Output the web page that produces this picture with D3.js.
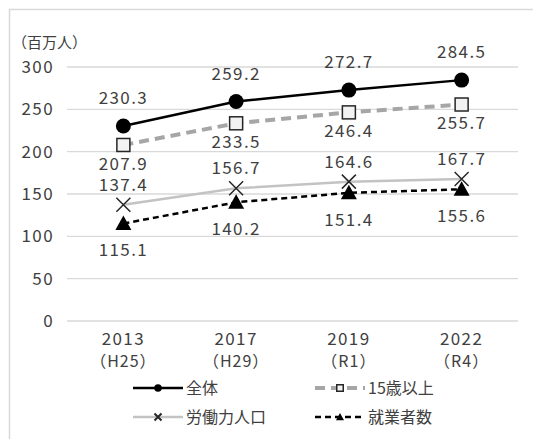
<!DOCTYPE html>
<html>
<head>
<meta charset="utf-8">
<script src="https://cdn.jsdelivr.net/npm/d3@7"></script>
<style>
  body { margin: 0; background: #fff; }
  text { font-family: "Noto Sans CJK JP", "Noto Sans", sans-serif; fill: #404040; }
  .num { letter-spacing: 1.4px; }
</style>
</head>
<body>
<div id="chart"></div>
<script>
// data
var years = ["2013", "2017", "2019", "2022"];
var eras = ["（H25）", "（H29）", "（R1）", "（R4）"];
var yTicks = [0, 50, 100, 150, 200, 250, 300];
var zentai = [230.3, 259.2, 272.7, 284.5];
var over15 = [207.9, 233.5, 246.4, 255.7];
var labor = [137.4, 156.7, 164.6, 167.7];
var employed = [115.1, 140.2, 151.4, 155.6];

var W = 533, H = 439;
var margin = { top: 67, right: 15, bottom: 118, left: 67 };
var width = W - margin.left - margin.right,
  height = H - margin.top - margin.bottom;

var root = d3.select("#chart").append("svg")
  .attr("width", W).attr("height", H);

// outer frame (cropped on right / bottom)
root.append("path")
  .attr("d", "M9.5," + H + "V9.5H" + W)
  .attr("fill", "none").attr("stroke", "#d9d9d9").attr("stroke-width", 1.5);

var svg = root.append("g")
  .attr("transform", "translate(" + margin.left + "," + margin.top + ")");

var x = d3.scaleBand().domain(years).range([0, width]);
var y = d3.scaleLinear().domain([0, 300]).range([height, 0]);
var cx = function (i) { return x(years[i]) + x.bandwidth() / 2; };

// grid
svg.selectAll(".grid").data(yTicks).enter().append("line")
  .attr("x1", 0).attr("x2", width)
  .attr("y1", function (d) { return y(d); }).attr("y2", function (d) { return y(d); })
  .attr("stroke", "#d9d9d9").attr("stroke-width", 1.3);

// y axis labels
var yAxis = svg.append("g").call(d3.axisLeft(y).tickValues(yTicks).tickSize(0).tickPadding(13));
yAxis.select(".domain").remove();
yAxis.selectAll("text").attr("class", "num").style("font-size", "17px").attr("fill", "#404040")
  .style("font-family", "'Noto Sans CJK JP', sans-serif");

root.append("text").attr("x", 12).attr("y", 48).style("font-size", "15px").text("（百万人）");

// x axis labels
svg.append("g").selectAll("text").data(years).enter().append("text")
  .attr("class", "num").attr("text-anchor", "middle").style("font-size", "17px")
  .attr("x", function (d, i) { return cx(i); }).attr("y", height + 24)
  .text(function (d) { return d; });
svg.append("g").selectAll("text").data(eras).enter().append("text")
  .attr("text-anchor", "middle").style("font-size", "16px").style("letter-spacing", "1px")
  .attr("x", function (d, i) { return cx(i); }).attr("y", height + 46)
  .text(function (d) { return d; });

var line = d3.line().x(function (d, i) { return cx(i); }).y(function (d) { return y(d); });

var series = [
  { name: "全体", data: zentai, color: "#000", width: 2.5, dash: null, marker: "circle", lab: -28 },
  { name: "15歳以上", data: over15, color: "#a6a6a6", width: 4, dash: "10,6", marker: "square", lab: 19 },
  { name: "労働力人口", data: labor, color: "#c3c3c3", width: 2.5, dash: null, marker: "cross", lab: -20 },
  { name: "就業者数", data: employed, color: "#000", width: 2.5, dash: "6,4", marker: "triangle", lab: 27 }
];

function drawMarker(g, type, px, py, s) {
  if (type === "circle") {
    g.append("circle").attr("cx", px).attr("cy", py).attr("r", 7.5 * s).attr("fill", "#000");
  } else if (type === "square") {
    var a = 13 * s;
    g.append("rect").attr("x", px - a / 2).attr("y", py - a / 2).attr("width", a).attr("height", a)
      .attr("fill", "#f2f2f2").attr("stroke", "#262626").attr("stroke-width", 1.5);
  } else if (type === "cross") {
    var c = 7 * s;
    g.append("path").attr("d", "M" + (px - c) + "," + (py - c) + "L" + (px + c) + "," + (py + c) +
      "M" + (px - c) + "," + (py + c) + "L" + (px + c) + "," + (py - c))
      .attr("stroke", "#262626").attr("stroke-width", s < 1 ? 2 : 1.5);
  } else {
    var t = 8 * s;
    g.append("path").attr("d", "M" + px + "," + (py - t) + "L" + (px + t) + "," + (py + t * 0.8) +
      "L" + (px - t) + "," + (py + t * 0.8) + "Z").attr("fill", "#000");
  }
}

series.forEach(function (s) {
  svg.append("path").datum(s.data).attr("d", line)
    .attr("fill", "none").attr("stroke", s.color).attr("stroke-width", s.width)
    .attr("stroke-dasharray", s.dash);
});

series.forEach(function (s) {
  var g = svg.append("g");
  s.data.forEach(function (v, i) { drawMarker(g, s.marker, cx(i), y(v), 1); });
  g.selectAll("text").data(s.data).enter().append("text")
    .attr("class", "num")
    .attr("x", function (d, i) { return cx(i); })
    .attr("y", function (d) { return y(d) + s.lab; })
    .attr("dy", "0.35em").attr("text-anchor", "middle").style("font-size", "17px")
    .text(function (d) { return d.toFixed(1); });
});

// legend
var legPos = [[133, 388], [315, 388], [133, 417], [315, 417]];
series.forEach(function (s, i) {
  var lg = root.append("g").attr("transform", "translate(" + legPos[i][0] + "," + legPos[i][1] + ")");
  lg.append("line").attr("x1", 0).attr("x2", 50).attr("y1", 0).attr("y2", 0)
    .attr("stroke", s.color).attr("stroke-width", s.width).attr("stroke-dasharray", s.dash);
  drawMarker(lg, s.marker, 25, 0, 0.5);
  lg.append("text").attr("x", 53).attr("y", 0).attr("dy", "0.35em")
    .style("font-size", "16px").text(s.name);
});
</script>
</body>
</html>
